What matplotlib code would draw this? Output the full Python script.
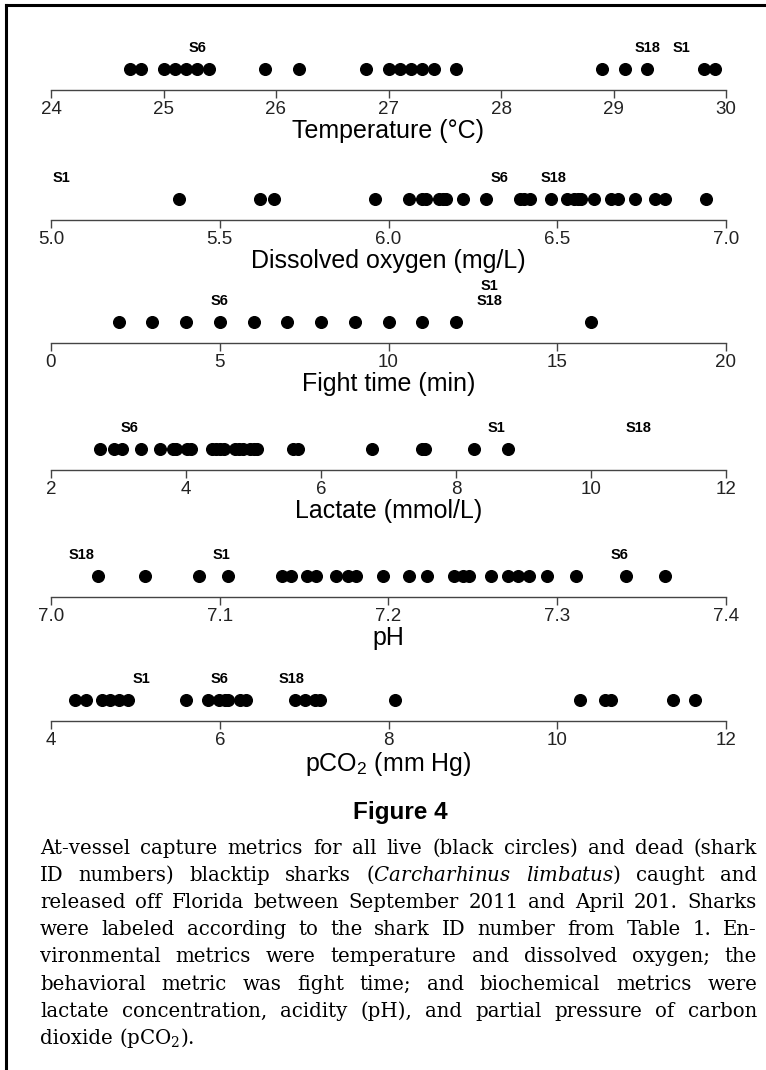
import matplotlib
matplotlib.use('Agg')
import matplotlib.pyplot as plt
from matplotlib.lines import Line2D

plt.rcParams['font.family'] = ['Liberation Sans', 'DejaVu Sans']
plt.rcParams['mathtext.fontset'] = 'dejavuserif'

# donnees
temp = [24.7, 24.8, 25.0, 25.1, 25.2, 25.3, 25.4, 25.9, 26.2, 26.8, 27.0,
        27.1, 27.2, 27.3, 27.4, 27.6, 28.9, 29.1, 29.3, 29.8, 29.9]
temp_ids = ['S6', 'S18', 'S1']
temp_ids_x = [25.3, 29.3, 29.6]
temp_ids_lvl = [0, 0, 0]

oxy = [5.38, 5.62, 5.66, 5.96, 6.06, 6.10, 6.11, 6.15, 6.16, 6.17, 6.22,
       6.29, 6.39, 6.40, 6.42, 6.48, 6.53, 6.55, 6.56, 6.57, 6.61, 6.66,
       6.68, 6.73, 6.79, 6.82, 6.94]
oxy_ids = ['S1', 'S6', 'S18']
oxy_ids_x = [5.03, 6.33, 6.49]
oxy_ids_lvl = [0, 0, 0]

fight = [2, 3, 4, 5, 6, 7, 8, 9, 10, 11, 12, 16]
fight_ids = ['S6', 'S1', 'S18']
fight_ids_x = [5, 13, 13]
fight_ids_lvl = [0, 1, 0]

lact = [2.72, 2.94, 3.05, 3.33, 3.61, 3.81, 3.85, 4.01, 4.08, 4.38, 4.44,
        4.50, 4.56, 4.72, 4.78, 4.84, 4.95, 5.00, 5.05, 5.59, 5.66, 6.75,
        7.50, 7.54, 8.27, 8.77]
lact_ids = ['S6', 'S1', 'S18']
lact_ids_x = [3.17, 8.6, 10.7]
lact_ids_lvl = [0, 0, 0]

ph = [7.028, 7.056, 7.088, 7.105, 7.137, 7.142, 7.152, 7.157, 7.169, 7.176,
      7.181, 7.197, 7.212, 7.223, 7.239, 7.244, 7.248, 7.261, 7.271, 7.277,
      7.283, 7.294, 7.311, 7.341, 7.364]
ph_ids = ['S18', 'S1', 'S6']
ph_ids_x = [7.018, 7.101, 7.337]
ph_ids_lvl = [0, 0, 0]

pco2 = [4.28, 4.41, 4.60, 4.70, 4.80, 4.91, 5.60, 5.86, 5.99, 6.06, 6.10,
        6.24, 6.31, 6.89, 7.01, 7.13, 7.19, 8.08, 10.27, 10.56, 10.64,
        11.37, 11.63]
pco2_ids = ['S1', 'S6', 'S18']
pco2_ids_x = [5.07, 6.0, 6.85]
pco2_ids_lvl = [0, 0, 0]

panels = [
    (temp, temp_ids, temp_ids_x, temp_ids_lvl, (24, 30), [24, 25, 26, 27, 28, 29, 30],
     ['24', '25', '26', '27', '28', '29', '30'], 'Temperature (°C)', 90),
    (oxy, oxy_ids, oxy_ids_x, oxy_ids_lvl, (5, 7), [5.0, 5.5, 6.0, 6.5, 7.0],
     ['5.0', '5.5', '6.0', '6.5', '7.0'], 'Dissolved oxygen (mg/L)', 220),
    (fight, fight_ids, fight_ids_x, fight_ids_lvl, (0, 20), [0, 5, 10, 15, 20],
     ['0', '5', '10', '15', '20'], 'Fight time (min)', 343),
    (lact, lact_ids, lact_ids_x, lact_ids_lvl, (2, 12), [2, 4, 6, 8, 10, 12],
     ['2', '4', '6', '8', '10', '12'], 'Lactate (mmol/L)', 470),
    (ph, ph_ids, ph_ids_x, ph_ids_lvl, (7.0, 7.4), [7.0, 7.1, 7.2, 7.3, 7.4],
     ['7.0', '7.1', '7.2', '7.3', '7.4'], 'pH', 597),
    (pco2, pco2_ids, pco2_ids_x, pco2_ids_lvl, (4, 12), [4, 6, 8, 10, 12],
     ['4', '6', '8', '10', '12'], r'pCO$_\mathregular{2}$ (mm Hg)', 721),
]

W, H = 766, 1070
fig = plt.figure(figsize=(W / 100, H / 100), dpi=100)

# cadre (haut et gauche)
fig.add_artist(Line2D([6 / W, 6 / W], [0, 1 - 5 / H], color='black', lw=2.2))
fig.add_artist(Line2D([6 / W, 1], [1 - 5 / H, 1 - 5 / H], color='black', lw=2.2))

axh = 60
for vals, ids, ids_x, ids_lvl, lim, ticks, tlabels, xlab, ypix in panels:
    ax = fig.add_axes([51 / W, 1 - ypix / H, 675 / W, axh / H])
    ax.set_xlim(lim)
    ax.set_ylim(0, axh)
    ax.plot(vals, [21] * len(vals), 'o', color='black', ms=8.4, mec='black')
    for name, x, lvl in zip(ids, ids_x, ids_lvl):
        ax.text(x, 42 + 15 * lvl, name, ha='center', va='center',
                fontsize=10.5, fontweight='bold')
    for s in ['top', 'left', 'right']:
        ax.spines[s].set_visible(False)
    ax.spines['bottom'].set_color('#444444')
    ax.spines['bottom'].set_linewidth(1.0)
    ax.set_yticks([])
    ax.set_xticks(ticks)
    ax.set_xticklabels(tlabels, fontsize=13.5, color='#222222')
    ax.tick_params(axis='x', length=6, width=1.0, color='#444444', pad=2)
    ax.set_xlabel(xlab, fontsize=18, labelpad=0.5)
    ax.patch.set_visible(False)

fig.text(400 / W, 1 - 812 / H, 'Figure 4', ha='center', va='center',
         fontsize=17.5, fontweight='bold')

# legende justifiee, mot par mot
caption = [
    'At-vessel capture metrics for all live (black circles) and dead (shark',
    r'ID numbers) blacktip sharks ($\mathit{Carcharhinus}$ $\mathit{limbatus}$) caught and',
    'released off Florida between September 2011 and April 201.  Sharks',
    'were labeled according to the shark ID number from Table 1. En-',
    'vironmental metrics were temperature and dissolved oxygen; the',
    'behavioral metric was fight time; and biochemical metrics were',
    'lactate concentration, acidity (pH), and partial pressure of carbon',
    r'dioxide (pCO$_2$).',
]
x0, x1 = 40, 757
y0, dy = 848, 27.2
renderer = fig.canvas.get_renderer()
for i, line in enumerate(caption):
    y = 1 - (y0 + i * dy) / H
    words = line.split()
    objs = []
    for w in words:
        t = fig.text(0, y, w, fontsize=14.2, family='DejaVu Serif',
                     va='center', ha='left')
        objs.append(t)
    widths = [t.get_window_extent(renderer).width for t in objs]
    if i == len(caption) - 1:
        gap = 6
    else:
        gap = (x1 - x0 - sum(widths)) / (len(words) - 1)
    x = x0
    for t, w in zip(objs, widths):
        t.set_x(x / W)
        x += w + gap

fig.savefig('out.png', dpi=100)
